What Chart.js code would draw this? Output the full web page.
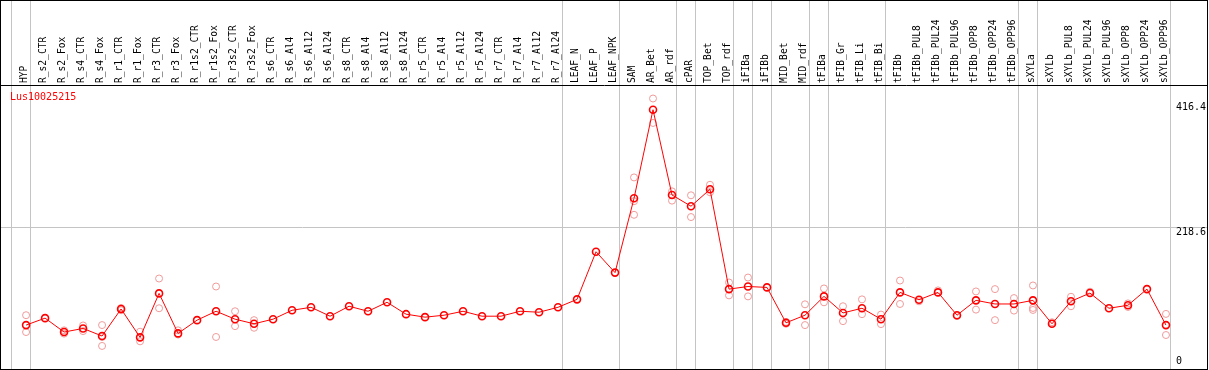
<!DOCTYPE html>
<html>
<head>
<meta charset="utf-8">
<script src="https://cdn.jsdelivr.net/npm/chart.js"></script>
<style>
  html, body { margin: 0; padding: 0; background: #fff; }
  #frame { position: relative; width: 1206px; height: 368px; border: 1px solid #000; }
  #c { display: block; }
  #title { position: absolute; left: 9px; top: 90px; font: 10px 'DejaVu Sans Mono', monospace; line-height: 12px; color: #ff0000; }
</style>
</head>
<body>
<div id="frame">
  <canvas id="c" width="1206" height="368"></canvas>
  <div id="title">Lus10025215</div>
</div>
<script>
const categories = [
  "HYP", "R_s2_CTR", "R_s2_Fox", "R_s4_CTR", "R_s4_Fox", "R_r1_CTR", "R_r1_Fox", "R_r3_CTR", "R_r3_Fox",
  "R_r1s2_CTR", "R_r1s2_Fox", "R_r3s2_CTR", "R_r3s2_Fox", "R_s6_CTR", "R_s6_Al4", "R_s6_Al12", "R_s6_Al24",
  "R_s8_CTR", "R_s8_Al4", "R_s8_Al12", "R_s8_Al24", "R_r5_CTR", "R_r5_Al4", "R_r5_Al12", "R_r5_Al24",
  "R_r7_CTR", "R_r7_Al4", "R_r7_Al12", "R_r7_Al24", "LEAF_N", "LEAF_P", "LEAF_NPK", "SAM", "AR_Bet", "AR_rdf",
  "cPAR", "TOP_Bet", "TOP_rdf", "iFIBa", "iFIBb", "MID_Bet", "MID_rdf", "tFIBa", "tFIB_Gr", "tFIB_Li", "tFIB_Bi",
  "tFIBb", "tFIBb_PUL8", "tFIBb_PUL24", "tFIBb_PUL96", "tFIBb_OPP8", "tFIBb_OPP24", "tFIBb_OPP96",
  "sXYLa", "sXYLb", "sXYLb_PUL8", "sXYLb_PUL24", "sXYLb_PUL96", "sXYLb_OPP8", "sXYLb_OPP24", "sXYLb_OPP96"
];

// mean expression per sample
const meanValues = [
  67.6, 78.3, 56.9, 62.4, 50.8, 92.4, 48.7, 116.4, 54.8,
  75.2, 88.9, 76.7, 69.6, 76.7, 90.4, 95.0, 81.3,
  96.6, 88.9, 102.7, 84.4, 79.8, 82.8, 88.9, 81.3,
  81.3, 88.9, 87.4, 95.0, 107.2, 180.5, 148.4, 262.8, 399.1, 267.9,
  250.6, 276.6, 123.0, 127.0, 125.6, 71.1, 82.8, 111.8, 86.3, 93.5, 76.7,
  117.9, 106.6, 117.9, 82.8, 105.7, 100.1, 100.1,
  105.7, 69.6, 104.2, 116.9, 93.5, 98.1, 123.0, 67.6
];

// replicates (null = hidden under the mean)
const repHigh = [
  82.8, null, 59.5, 67.0, 67.6, 93.9, 57.4, 139.3, 59.5,
  null, 127.0, 88.9, 75.2, null, null, null, null,
  null, null, null, null, null, null, null, null,
  null, null, null, null, null, null, null, 294.9, 416.4, 273.5,
  267.4, 283.6, 133.2, 140.8, null, 72.5, 99.6, 124.0, 96.6, 107.2, 83.8,
  136.2, 104.2, 121.0, 81.5, 119.4, 123.0, 109.2,
  128.6, 72.0, 111.2, 119.0, null, 101.0, null, 84.8
];
const repLow = [
  56.9, null, 54.5, 58.4, 35.5, 90.4, 42.6, 93.5, 53.0,
  null, 49.3, 66.0, 63.5, null, null, null, null,
  null, null, null, null, null, null, null, null,
  null, null, null, null, null, null, null, 237.4, 378.8, 259.2,
  233.9, 272.0, 113.3, 111.8, null, 69.6, 67.6, 102.7, 73.7, 84.4, 69.1,
  100.1, null, null, null, 91.4, 75.2, 89.9,
  94.0, null, 96.6, null, null, 95.5, null, 52.3
];
const repExtra = [
  null, null, null, null, 49.3, null, null, null, null,
  null, null, null, null, null, null, null, null,
  null, null, null, null, null, null, null, null,
  null, null, null, null, null, null, null, 258.3, null, null,
  null, null, null, null, null, null, null, null, null, null, null,
  null, null, null, null, null, null, null,
  90.9, null, null, null, null, null, null, null
];

// last sample index of each group (-1 = line before the first sample)
const groupEnds = [-1, 0, 28, 31, 34, 35, 37, 38, 39, 41, 42, 45, 52, 53, 60];

const yTickValues = [0, 218.6, 416.4];
const yTickLabels = ["0", "218.6", "416.4"];
const yMax = 437.2;

const monoFont = { family: "'DejaVu Sans Mono', monospace", size: 10 };

function toPoints(arr) {
  const pts = [];
  arr.forEach((v, i) => { if (v !== null) pts.push({ x: i, y: v }); });
  return pts;
}

const replicatePoints = toPoints(repHigh).concat(toPoints(repLow), toPoints(repExtra));

// plot runs a little past the bottom edge of the canvas
function trimPadding(axis) {
  axis.paddingLeft = 0;
  axis.paddingRight = 0;
  axis.paddingTop = 0;
  axis.paddingBottom = -2;
}

new Chart(document.getElementById("c"), {
  type: "scatter",
  data: {
    datasets: [
      {
        label: "mean",
        data: toPoints(meanValues),
        showLine: true,
        borderColor: "#ff0000",
        borderWidth: 1,
        pointRadius: 3.5,
        pointBorderWidth: 1.6,
        pointBorderColor: "#ff0000",
        pointBackgroundColor: "rgba(0,0,0,0)",
        order: 0
      },
      {
        label: "replicates",
        data: replicatePoints,
        showLine: false,
        pointRadius: 3.5,
        pointBorderWidth: 1,
        pointBorderColor: "#f09a9a",
        pointBackgroundColor: "rgba(0,0,0,0)",
        order: 1
      }
    ]
  },
  options: {
    responsive: false,
    animation: false,
    layout: { autoPadding: false, padding: { left: 0, right: 0, top: 0, bottom: -2 } },
    plugins: { legend: { display: false }, tooltip: { enabled: false } },
    scales: {
      x: {
        type: "linear",
        position: "top",
        min: -1.32,
        max: 62.16,
        afterBuildTicks: axis => {
          axis.ticks = categories.map((c, i) => ({ value: i }))
            .concat(groupEnds.map(e => ({ value: e + 0.25 })));
        },
        afterFit: axis => { axis.height = 84; trimPadding(axis); },
        ticks: {
          autoSkip: false,
          minRotation: 90,
          maxRotation: 90,
          padding: -82,
          labelOffset: 10,
          font: { family: "'DejaVu Sans Mono', monospace", size: 9.6 },
          color: "#000",
          callback: v => Number.isInteger(v) ? categories[v] : ""
        },
        grid: {
          drawTicks: true,
          tickLength: 84,
          lineWidth: 1,
          color: ctx => (ctx.tick && Number.isInteger(ctx.tick.value)) ? "rgba(0,0,0,0)" : "#c4c4c4"
        },
        border: { display: true, color: "#000", width: 1 }
      },
      y: {
        type: "linear",
        position: "right",
        min: 0,
        max: yMax,
        // keep the end labels inside the plot
        afterBuildTicks: axis => {
          axis.ticks = yTickValues.map(v => ({
            value: v === 218.6 ? v : Math.min(Math.max(v, yMax * 0.045), yMax * 0.94)
          }));
        },
        afterFit: axis => { axis.width = 0; trimPadding(axis); },
        ticks: {
          mirror: true,
          padding: -1,
          labelOffset: 5,
          font: monoFont,
          color: "#000",
          callback: (v, i) => yTickLabels[i].padEnd(5, " ")
        },
        grid: {
          drawTicks: false,
          color: ctx => (ctx.tick && ctx.tick.value === 218.6) ? "#c4c4c4" : "rgba(0,0,0,0)"
        },
        border: { display: false }
      }
    }
  }
});
</script>
</body>
</html>
